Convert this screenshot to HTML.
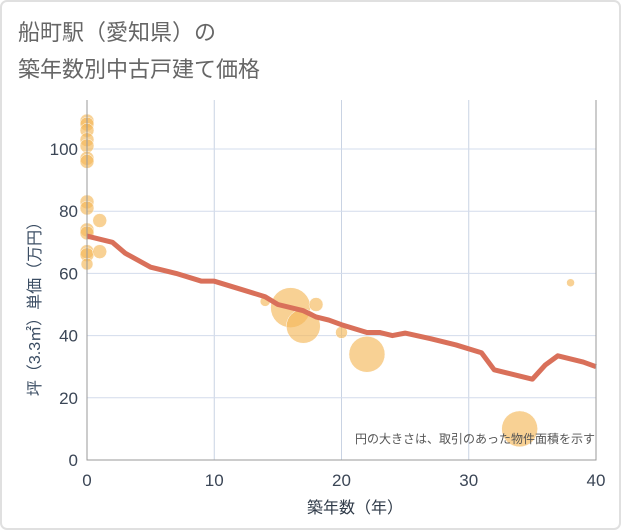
<!DOCTYPE html>
<html><head><meta charset="utf-8"><style>
body{margin:0;background:#fff;}
svg{display:block;font-family:"Liberation Sans","Noto Sans CJK JP",sans-serif;}
</style></head><body>
<svg id="chart" width="621" height="530">
<rect x="1" y="1" width="619" height="528" rx="6" fill="#fff" stroke="#e0e0e0" stroke-width="2"/>
<text x="18" y="40" font-size="22" fill="#666">船町駅（愛知県）の</text>
<text x="18" y="77" font-size="22" fill="#666">築年数別中古戸建て価格</text>
<g id="grid"></g><g id="dots"></g><g id="line"></g><g id="axes"></g>
<text x="595" y="443" font-size="12" fill="#555" text-anchor="end">円の大きさは、取引のあった物件面積を示す</text>
<text x="355" y="513" font-size="16" fill="#2f3a48" text-anchor="middle">築年数（年）</text>
<text transform="translate(40,305) rotate(-90)" font-size="16" fill="#3b4d63" text-anchor="middle">坪（3.3㎡）単価（万円）</text>
</svg>
<script>
const xTicks=[0,10,20,30,40];
const yTicks=[0,20,40,60,80,100];
const lineAges=[0,2,3,5,7,9,10,12,14,15,17,18,19,20,22,23,24,25,27,29,31,32,33,34,35,36,37,38,39,40];
const linePrices=[72,70,66.5,62,60,57.5,57.5,55,52.5,50,48,46,45,43.5,41,41,40,40.8,39,37,34.5,29,28,27,26,30.5,33.5,32.5,31.5,30];
const dotAges=[0,0,0,0,0,0,0,0,0,0,0,0,0,0,1,1,14,16,17,18,20,22,34,38];
const dotPrices=[109,108,106,103,101,97,96,83,81,74,73,67,66,63,77,67,51,49,43,50,41,34,10,57];
const dotSizes=[7,7,7,7,7,7,7,7,7,7,7,7,7,6,7,7,5,20,17,7,6,18,18,4];
const NS='http://www.w3.org/2000/svg';
const X=v=>87+v*12.725, Y=v=>460-v*3.11;
function mk(t,a,p){const e=document.createElementNS(NS,t);for(const k in a)e.setAttribute(k,a[k]);p.appendChild(e);return e;}
const grid=document.getElementById('grid'),axes=document.getElementById('axes');
xTicks.forEach(t=>{
 if(t>0){const g=mk('line',{x1:X(t),x2:X(t),y1:100,y2:460,stroke:'#c9d3e3','stroke-width':1},grid);
 
 }
 const l=mk('text',{x:X(t),y:486,'font-size':17,fill:'#3b4656','text-anchor':'middle'},axes);l.textContent=t;
 
 
});
yTicks.forEach(t=>{
 if(t>0){const g=mk('line',{x1:87,x2:596,y1:Y(t),y2:Y(t),stroke:'#d3dcec','stroke-width':1},grid);
 
 }
 const l=mk('text',{x:78,y:Y(t)+6,'font-size':17,fill:'#3b4656','text-anchor':'end'},axes);l.textContent=t;
 
 
});
const ax=mk('path',{d:'M87 100V460H596V100',fill:'none',stroke:'#999','stroke-width':1},axes);


const dots=document.getElementById('dots');
dotAges.forEach((a,i)=>{
 const c=mk('circle',{cx:X(a),cy:Y(dotPrices[i]),r:dotSizes[i],fill:'#f5b95a','fill-opacity':0.65,stroke:'#fff','stroke-width':0.5},dots);
 
 
});
const p=mk('polyline',{points:lineAges.map((a,i)=>X(a)+','+Y(linePrices[i])).join(' '),fill:'none',stroke:'#d9705a','stroke-width':5,'stroke-linejoin':'round'},document.getElementById('line'));


</script>
</body></html>
